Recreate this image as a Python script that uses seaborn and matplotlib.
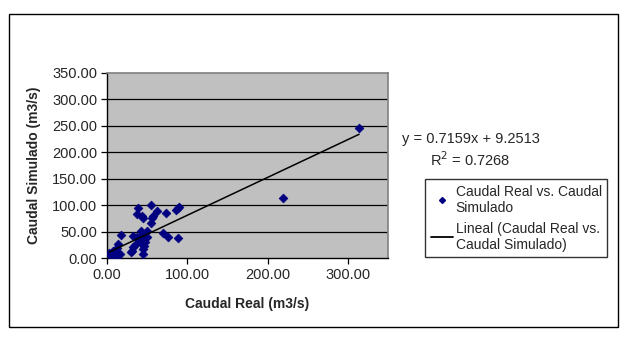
import matplotlib
matplotlib.use("Agg")
import matplotlib.pyplot as plt
from matplotlib.lines import Line2D
from matplotlib.patches import Rectangle
import numpy as np
import pandas as pd
import seaborn as sns

# Observed vs simulated discharge (m3/s)
caudal_real = [54.6, 39, 37, 43, 56.7, 62, 73, 86, 88, 90, 54.6, 56, 44.6,
               17, 42, 49.6, 70, 75.8, 88, 33, 37, 40, 45, 49.6, 47.5, 43,
               44.6, 44.6, 46, 45, 33, 31, 30, 35, 14, 8, 6, 10, 14, 16, 4,
               7, 12, 11, 3, 219, 314]
caudal_simulado = [100, 94, 84, 80, 80, 89, 86, 90, 94, 96, 67, 76, 76,
                   44, 52, 52, 47.5, 40.6, 38, 41, 39, 35, 37.5, 40.6, 30, 26,
                   17.5, 8, 22, 45, 21, 14, 11, 25, 27, 14, 8, 11, 5, 8, 5,
                   3, 18, 2, 10, 113, 246]

# Linear trend line coefficients
slope = 0.7159
intercept = 9.2513
r_squared = 0.7268

x_ticks = [0, 100, 200, 300]
y_ticks = [0, 50, 100, 150, 200, 250, 300, 350]

sns.set_theme(style="white")
plt.rcParams["font.family"] = ["Liberation Sans", "DejaVu Sans"]

df = pd.DataFrame({"real": caudal_real, "sim": caudal_simulado})

fig = plt.figure(figsize=(6.26, 3.37), dpi=100)
fig.patch.set_facecolor("white")
W, H = 626, 337

# outer chart frame
fig.patches.append(Rectangle((9 / W, 1 - 327 / H), (618 - 9) / W, (327 - 14) / H,
                             transform=fig.transFigure, fill=False,
                             edgecolor="black", linewidth=1.0))

ax = fig.add_axes([107 / W, 1 - 258 / H, (388 - 107) / W, (258 - 73) / H])
ax.set_facecolor("#C0C0C0")

ax.set_xlim(0, 350)
ax.set_ylim(0, 350)
ax.set_xticks(x_ticks)
ax.set_yticks(y_ticks)
ax.set_xticklabels([f"{v:.2f}" for v in x_ticks])
ax.set_yticklabels([f"{v:.2f}" for v in y_ticks])

for v in y_ticks[1:-1]:
    ax.axhline(v, color="black", linewidth=0.9, zorder=1)

sns.scatterplot(data=df, x="real", y="sim", ax=ax, marker="D", s=20,
                color="#000080", edgecolor="#000080", linewidth=0.5, zorder=3)

xl = np.array([min(caudal_real), max(caudal_real)])
ax.plot(xl, slope * xl + intercept, color="black", linewidth=1.1, zorder=4)

for side in ["top", "right"]:
    ax.spines[side].set_color("#808080")
    ax.spines[side].set_linewidth(1.2)
for side in ["left", "bottom"]:
    ax.spines[side].set_color("black")
    ax.spines[side].set_linewidth(1.0)

ax.tick_params(axis="both", direction="out", length=4, width=0.9,
               color="black", labelsize=10.5, pad=3,
               bottom=True, left=True)

ax.set_xlabel("Caudal Real (m3/s)", fontsize=10, fontweight="bold", labelpad=11)
ax.set_ylabel("Caudal Simulado (m3/s)", fontsize=10, fontweight="bold", labelpad=8)

# trend line equation
fig.text(402 / W, 1 - 139 / H, f"y = {slope}x + {intercept}", fontsize=10.5,
         ha="left", va="center")
fig.text(470 / W, 1 - 160 / H, f"R$^2$ = {r_squared}", fontsize=10.5,
         ha="center", va="center")

handles = [
    Line2D([], [], marker="D", markersize=3, color="#000080", linestyle="none"),
    Line2D([], [], color="black", linewidth=1.3),
]
labels = ["Caudal Real vs. Caudal\nSimulado",
          "Lineal (Caudal Real vs.\nCaudal Simulado)"]
leg = fig.legend(handles, labels, loc="upper left",
                 bbox_to_anchor=(425 / W, 1 - 179 / H),
                 fontsize=10, frameon=True, fancybox=False, shadow=False,
                 handlelength=1.6, handletextpad=0.2, borderpad=0.4,
                 labelspacing=0.5, borderaxespad=0)
leg.get_frame().set_edgecolor("black")
leg.get_frame().set_linewidth(1.0)

fig.savefig("out.png", dpi=100, facecolor="white")
